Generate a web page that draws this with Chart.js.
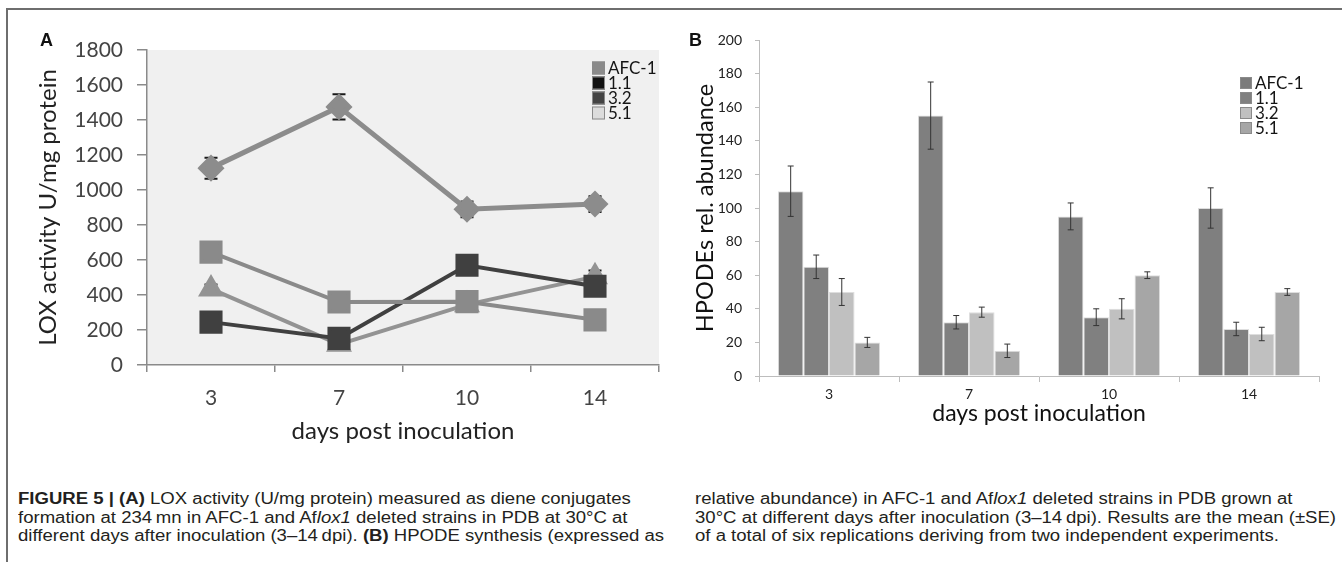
<!DOCTYPE html>
<html>
<head>
<meta charset="utf-8">
<script src="https://cdn.jsdelivr.net/npm/chart.js@4.4.1/dist/chart.umd.min.js"></script>
<style>
  body { margin: 0; background: #fff; width: 1342px; height: 562px; overflow: hidden; position: relative; font-family: Lato, sans-serif; }
  #frame { position: absolute; left: 6px; top: 8px; width: 1340px; height: 560px; border-top: 2px solid #6e6e6e; border-left: 2px solid #6e6e6e; }
  #boxA { position: absolute; left: 0; top: 0; width: 680px; height: 450px; }
  #boxB { position: absolute; left: 680px; top: 0; width: 662px; height: 440px; }
  .tag { position: absolute; font: bold 18px "Liberation Sans", Arial, sans-serif; color: #111; }
  .cap { position: absolute; top: 490px; font: 16px "Liberation Sans", Arial, sans-serif; line-height: 18.5px; color: #231f20; white-space: nowrap; transform: scaleX(1.16); transform-origin: 0 0; }
</style>
</head>
<body>
<div id="frame"></div>
<div id="boxA"><canvas id="chartA"></canvas></div>
<div id="boxB"><canvas id="chartB"></canvas></div>
<div class="tag" style="left:40px;top:30px">A</div>
<div class="tag" style="left:689px;top:30px">B</div>
<div class="cap" style="left:18px"><b>FIGURE 5 | (A)</b> LOX activity (U/mg protein) measured as diene conjugates<br>formation at 234&thinsp;mn in AFC-1 and Af<i>lox1</i> deleted strains in PDB at 30°C at<br>different days after inoculation (3–14&thinsp;dpi). <b>(B)</b> HPODE synthesis (expressed as</div>
<div class="cap" style="left:695px">relative abundance) in AFC-1 and Af<i>lox1</i> deleted strains in PDB grown at<br>30°C at different days after inoculation (3–14&thinsp;dpi). Results are the mean (±SE)<br>of a total of six replications deriving from two independent experiments.</div>
<script>
const days = ['3', '7', '10', '14'];
const strains = ['AFC-1', '1.1', '3.2', '5.1'];

// A: LOX activity (U/mg protein)
const loxAFC1 = [1125, 1475, 890, 920];
const loxAFC1Err = [60, 72, 45, 45];
const lox11 = [645, 360, 362, 258];
const lox11Err = [0, 0, 0, 0];
const lox32 = [245, 152, 570, 450];
const lox32Err = [0, 0, 0, 0];
const lox51 = [435, 118, 345, 505];
const lox51Err = [25, 0, 0, 35];

// B: HPODEs rel. abundance
const hpAFC1 = [110, 155, 95, 100];
const hpAFC1Err = [15, 20, 8, 12];
const hp11 = [65, 32, 35, 28];
const hp11Err = [7, 4, 5, 4];
const hp32 = [50, 38, 40, 25];
const hp32Err = [8, 3, 6, 4];
const hp51 = [20, 15, 60, 50];
const hp51Err = [3, 4, 2, 2];

const legendColorsA = ['#8a8a8a', '#111111', '#444444', '#dcdcdc'];
const legendColorsB = ['#7b7b7b', '#808080', '#c0c0c0', '#a6a6a6'];

Chart.defaults.font.family = 'Lato, sans-serif';

const plotFill = {
  id: 'plotFill',
  beforeDraw(chart, args, opts) {
    if (!opts.color) return;
    const a = chart.chartArea, ctx = chart.ctx;
    ctx.save();
    ctx.fillStyle = opts.color;
    ctx.fillRect(a.left, a.top, a.right - a.left, a.bottom - a.top);
    ctx.restore();
  }
};

function drawErrors(chart, opts) {
  const ctx = chart.ctx, y = chart.scales.y;
  chart.data.datasets.forEach((ds, i) => {
    if (!ds.errors) return;
    const meta = chart.getDatasetMeta(i);
    ctx.save();
    ctx.strokeStyle = opts.color;
    ctx.lineWidth = opts.width;
    meta.data.forEach((el, j) => {
      const e = ds.errors[j];
      if (!e) return;
      const top = y.getPixelForValue(ds.data[j] + e);
      const bot = y.getPixelForValue(ds.data[j] - e);
      ctx.beginPath();
      ctx.moveTo(el.x, top); ctx.lineTo(el.x, bot);
      ctx.moveTo(el.x - opts.cap, top); ctx.lineTo(el.x + opts.cap, top);
      ctx.moveTo(el.x - opts.cap, bot); ctx.lineTo(el.x + opts.cap, bot);
      ctx.stroke();
    });
    ctx.restore();
  });
}

// error bars either behind the markers (panel A) or over the bars (panel B)
const errorBars = {
  id: 'errorBars',
  beforeDatasetsDraw(chart, args, opts) { if (opts.behind) drawErrors(chart, opts); },
  afterDatasetsDraw(chart, args, opts) { if (!opts.behind) drawErrors(chart, opts); }
};

const insideLegend = {
  id: 'insideLegend',
  afterDraw(chart, args, o) {
    const ctx = chart.ctx, a = chart.chartArea;
    ctx.save();
    ctx.font = o.font;
    ctx.textBaseline = 'middle';
    chart.data.datasets.forEach((ds, i) => {
      const x = a.right - o.right;
      const y = a.top + o.top + i * o.step;
      ctx.fillStyle = o.colors[i];
      ctx.fillRect(x, y - o.box / 2, o.box, o.box);
      ctx.strokeStyle = '#8a8a8a';
      ctx.lineWidth = 1;
      ctx.strokeRect(x + 0.5, y - o.box / 2 + 0.5, o.box - 1, o.box - 1);
      ctx.fillStyle = '#151515';
      ctx.fillText(ds.label, x + o.box + 3, y + 1);
    });
    ctx.restore();
  }
};

function lineSet(label, data, errors, color, style, radius, width) {
  return {
    label: label, data: data, errors: errors,
    borderColor: color, backgroundColor: color,
    pointBackgroundColor: color, pointBorderColor: color,
    pointStyle: style, pointRadius: radius, borderWidth: width,
    tension: 0
  };
}

new Chart(document.getElementById('chartA'), {
  type: 'line',
  data: {
    labels: days,
    datasets: [
      lineSet(strains[0], loxAFC1, loxAFC1Err, '#8c8c8c', 'rectRot', 10, 5),
      lineSet(strains[1], lox11, lox11Err, '#8a8a8a', 'rect', 13.5, 4),
      lineSet(strains[2], lox32, lox32Err, '#404040', 'rect', 13.5, 4),
      lineSet(strains[3], lox51, lox51Err, '#939393', 'triangle', 11, 4)
    ]
  },
  options: {
    responsive: true,
    maintainAspectRatio: false,
    animation: false,
    devicePixelRatio: 1,
    layout: { padding: { left: 30, top: 50, right: 21, bottom: 4 } },
    plugins: {
      legend: { display: false },
      tooltip: { enabled: false },
      plotFill: { color: '#f0f0f0' },
      errorBars: { color: '#1a1a1a', width: 2, cap: 6.5, behind: true },
      insideLegend: { colors: legendColorsA, font: '17px Lato', right: 67, top: 18, step: 15, box: 13 }
    },
    scales: {
      x: {
        offset: true,
        afterFit: s => { s.height = 81; },
        grid: { offset: true, drawOnChartArea: false, tickLength: 7, color: '#8a8a8a', lineWidth: 1.5 },
        border: { color: '#8a8a8a', width: 1.5 },
        ticks: { color: '#444', font: { size: 21 }, padding: 14 },
        title: { display: true, text: 'days post inoculation', color: '#222', font: { size: 24 }, padding: { top: 2, bottom: 0 } }
      },
      y: {
        min: 0, max: 1800,
        afterFit: s => { s.width = 117; },
        grid: { drawOnChartArea: false, tickLength: 10, color: '#8a8a8a', lineWidth: 1.5 },
        border: { color: '#8a8a8a', width: 1.5 },
        ticks: { stepSize: 200, color: '#444', font: { size: 21 }, padding: 14, callback: v => String(v) },
        title: { display: true, text: 'LOX activity U/mg protein', color: '#222', font: { size: 24 }, padding: { top: 4, bottom: 0 } }
      }
    }
  },
  plugins: [plotFill, errorBars, insideLegend]
});

function barSet(label, data, errors, color) {
  return { label: label, data: data, errors: errors, backgroundColor: color, borderColor: '#dedede', borderWidth: 1 };
}

new Chart(document.getElementById('chartB'), {
  type: 'bar',
  data: {
    labels: days,
    datasets: [
      barSet(strains[0], hpAFC1, hpAFC1Err, '#7f7f7f'),
      barSet(strains[1], hp11, hp11Err, '#808080'),
      barSet(strains[2], hp32, hp32Err, '#c0c0c0'),
      barSet(strains[3], hp51, hp51Err, '#a6a6a6')
    ]
  },
  options: {
    responsive: true,
    maintainAspectRatio: false,
    animation: false,
    devicePixelRatio: 1,
    datasets: { bar: { categoryPercentage: 0.73, barPercentage: 1 } },
    layout: { padding: { left: 8, top: 40, right: 23, bottom: 13 } },
    plugins: {
      legend: { display: false },
      tooltip: { enabled: false },
      errorBars: { color: '#333', width: 1, cap: 3, behind: false },
      insideLegend: { colors: legendColorsB, font: '17px Lato', right: 79, top: 43, step: 15, box: 12 }
    },
    scales: {
      x: {
        afterFit: s => { s.height = 51; },
        grid: { offset: true, drawOnChartArea: false, tickLength: 6, color: '#bdbdbd' },
        border: { color: '#bdbdbd' },
        ticks: { color: '#222', font: { size: 14 }, padding: 4 },
        title: { display: true, text: 'days post inoculation', color: '#111', font: { size: 23 }, padding: { top: 0, bottom: 0 } }
      },
      y: {
        min: 0, max: 200,
        afterFit: s => { s.width = 71; },
        grid: { drawOnChartArea: false, tickLength: 4, color: '#bdbdbd' },
        border: { color: '#bdbdbd' },
        ticks: { stepSize: 20, color: '#222', font: { size: 14 }, padding: 13 },
        title: { display: true, text: 'HPODEs rel. abundance', color: '#111', font: { size: 23.5 }, padding: { top: 3, bottom: 0 } }
      }
    }
  },
  plugins: [errorBars, insideLegend]
});
</script>
</body>
</html>
